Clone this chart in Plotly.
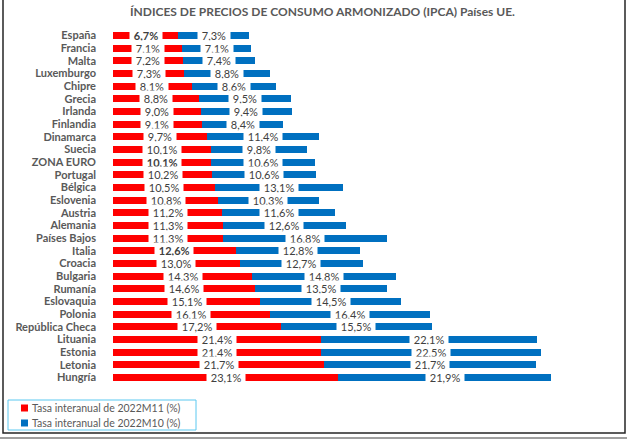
import plotly.graph_objects as go

countries = ["España", "Francia", "Malta", "Luxemburgo", "Chipre", "Grecia", "Irlanda",
             "Finlandia", "Dinamarca", "Suecia", "ZONA EURO", "Portugal", "Bélgica",
             "Eslovenia", "Austria", "Alemania", "Países Bajos", "Italia", "Croacia",
             "Bulgaria", "Rumanía", "Eslovaquia", "Polonia", "República Checa",
             "Lituania", "Estonia", "Letonia", "Hungría"]
m11 = [6.7, 7.1, 7.2, 7.3, 8.1, 8.8, 9.0, 9.1, 9.7, 10.1, 10.1, 10.2, 10.5, 10.8,
       11.2, 11.3, 11.3, 12.6, 13.0, 14.3, 14.6, 15.1, 16.1, 17.2, 21.4, 21.4, 21.7, 23.1]
m10 = [7.3, 7.1, 7.4, 8.8, 8.6, 9.5, 9.4, 8.4, 11.4, 9.8, 10.6, 10.6, 13.1, 10.3,
       11.6, 12.6, 16.8, 12.8, 12.7, 14.8, 13.5, 14.5, 16.4, 15.5, 22.1, 22.5, 21.7, 21.9]
bold_labels = ["España", "ZONA EURO", "Italia"]

title = "ÍNDICES DE PRECIOS DE CONSUMO ARMONIZADO (IPCA) Países UE."
name11 = "Tasa interanual de 2022M11 (%)"
name10 = "Tasa interanual de 2022M10 (%)"

RED = "#FF0000"
BLUE = "#0070C0"
GRAY = "#595959"
TXT = "#404040"
FONT = "Lato, 'Open Sans', sans-serif"

W, H = 627, 441
L, R, T, B = 113, 27, 27, 55
PW = W - L - R
PH = H - T - B


def px(xp):
    return (xp - L) / PW


def py(yp):
    return (H - B - yp) / PH


def fmt(v):
    return f"{v:.1f}".replace(".", ",") + "%"


fig = go.Figure()
fig.add_trace(go.Bar(y=countries, x=m11, orientation="h", name=name11,
                     marker=dict(color=RED, line=dict(width=0)), hoverinfo="x+y"))
fig.add_trace(go.Bar(y=countries, x=m10, orientation="h", name=name10,
                     marker=dict(color=BLUE, line=dict(width=0)), hoverinfo="x+y"))

annotations = []
for c, a, b in zip(countries, m11, m10):
    t1 = fmt(a)
    if c in bold_labels:
        t1 = f"<b>{t1}</b>"
    annotations.append(dict(x=a / 2, y=c, xref="x", yref="y", text=f"&nbsp;{t1}&nbsp;",
                            showarrow=False, bgcolor="white", borderpad=1,
                            font=dict(family=FONT, size=11, color=TXT)))
    annotations.append(dict(x=a + b / 2, y=c, xref="x", yref="y", text=f"&nbsp;{fmt(b)}&nbsp;",
                            showarrow=False, bgcolor="white", borderpad=1,
                            font=dict(family=FONT, size=11, color=TXT)))

annotations.append(dict(x=px(322), y=py(11), xref="paper", yref="paper", text=f"<b>{title}</b>",
                        showarrow=False, xanchor="center", yanchor="middle",
                        font=dict(family=FONT, size=12, color=GRAY)))

# legend (drawn inside a framed box like the original)
legend_items = [(name11, RED, 408), (name10, BLUE, 423)]
for name, col, yc in legend_items:
    annotations.append(dict(x=px(30), y=py(yc), xref="paper", yref="paper", text=name,
                            showarrow=False, xanchor="left", yanchor="middle",
                            font=dict(family=FONT, size=10.5, color=GRAY)))

shapes = [
    dict(type="rect", xref="paper", yref="paper", x0=px(3), x1=px(625), y0=py(-3), y1=py(433),
         line=dict(color="#262626", width=1.5), fillcolor="rgba(0,0,0,0)", layer="below"),
    dict(type="line", xref="paper", yref="paper", x0=px(0), x1=px(627), y0=py(438), y1=py(438),
         line=dict(color="#7F7F7F", width=1.5)),
    dict(type="rect", xref="paper", yref="paper", x0=px(8), x1=px(196), y0=py(400), y1=py(430),
         line=dict(color="#5BC8F0", width=1), fillcolor="white"),
]
for name, col, yc in legend_items:
    shapes.append(dict(type="rect", xref="paper", yref="paper", x0=px(21), x1=px(28),
                       y0=py(yc - 3.5), y1=py(yc + 3.5), line=dict(width=0), fillcolor=col))

fig.update_layout(
    width=W, height=H,
    margin=dict(l=L, r=R, t=T, b=B, pad=0, autoexpand=False),
    barmode="stack", bargap=0.47,
    plot_bgcolor="white", paper_bgcolor="white",
    font=dict(family=FONT, size=11, color=GRAY),
    showlegend=False,
    annotations=annotations,
    shapes=shapes,
)
fig.update_xaxes(range=[0, 50], visible=False, showgrid=False, zeroline=False)
fig.update_yaxes(autorange="reversed", showgrid=False, zeroline=False, showline=False,
                 ticks="", ticklabelstandoff=16, tickmode="array", tickvals=countries,
                 ticktext=countries,
                 tickfont=dict(family=FONT, size=11, color=GRAY, weight="bold"))

fig.write_html("out.html", config={"displayModeBar": False},
               post_script="document.body.style.margin='0';document.body.style.overflow='hidden';")
